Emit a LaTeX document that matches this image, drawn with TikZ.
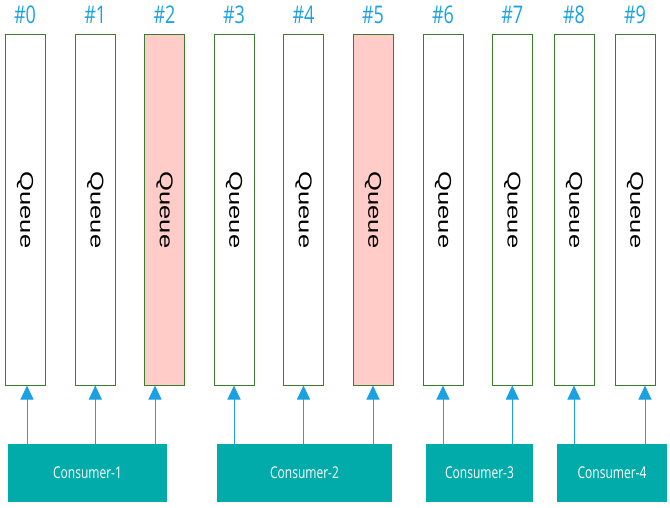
\documentclass[tikz,border=0pt]{standalone}
\usepackage{fontspec}
\setmainfont{Open Sans}
\newfontfamily\qfont{Liberation Sans}
\usetikzlibrary{arrows.meta}
\definecolor{qstroke}{HTML}{3A7D2E}
\definecolor{qpink}{HTML}{FFCCC7}
\definecolor{lblue}{HTML}{1BA1E2}
\definecolor{cteal}{HTML}{00ABA9}
\tikzset{
  queue/.style={draw=qstroke, line width=1pt, fill=white, minimum width=40pt, minimum height=350pt, inner sep=0pt},
  hot/.style={fill=qpink},
  idx/.style={text=lblue, inner sep=0pt, font=\fontsize{18}{18}\selectfont},
  cons/.style={fill=cteal, text=white, inner sep=0pt, minimum height=58pt, font=\fontsize{12}{12}\selectfont},
  arr/.style={draw=lblue, line width=1pt, -{Triangle[width=13pt,length=14pt]}}
}
\newcommand{\qtext}{\rotatebox{-90}{\scalebox{1.38}[1]{\qfont\fontsize{18.5}{18.5}\selectfont Queue}}}
\newcommand{\vs}[1]{\scalebox{1}[1.35]{#1}}
\begin{document}
\begin{tikzpicture}[x=1pt,y=-1pt]
\useasboundingbox (0,0) rectangle (670,508);
\foreach \i/\x/\s in {0/25/,1/95.3/,2/164.5/hot,3/234/,4/303.5/,5/373/hot,6/443/,7/512.3/,8/574/,9/635/}{
  \node[queue,\s] (q\i) at (\x,210) {\qtext};
  \node[idx] (l\i) at (\x,15) {\vs{\#\i}};
}
\node[cons, minimum width=159pt] (c1) at (87.5,473) {\vs{Consumer-1}};
\node[cons, minimum width=175pt] (c2) at (304.5,473) {\vs{Consumer-2}};
\node[cons, minimum width=107pt] (c3) at (479.5,473) {\vs{Consumer-3}};
\node[cons, minimum width=110pt] (c4) at (612,473) {\vs{Consumer-4}};
\coordinate (t0) at ([xshift=2pt]q0.south);
\coordinate (t2) at ([xshift=-9.5pt]q2.south);
\coordinate (t9) at ([xshift=10pt]q9.south);
\draw[arr] (c1.north -| t0) -- (t0);
\draw[arr] (c1.north -| q1) -- (q1.south);
\draw[arr] (c1.north -| t2) -- (t2);
\draw[arr] (c2.north -| q3) -- (q3.south);
\draw[arr] (c2.north -| q4) -- (q4.south);
\draw[arr] (c2.north -| q5) -- (q5.south);
\draw[arr] (c3.north -| q6) -- (q6.south);
\draw[arr] (c3.north -| q7) -- (q7.south);
\draw[arr] (c4.north -| q8) -- (q8.south);
\draw[arr] (c4.north -| t9) -- (t9);
\end{tikzpicture}
\end{document}
